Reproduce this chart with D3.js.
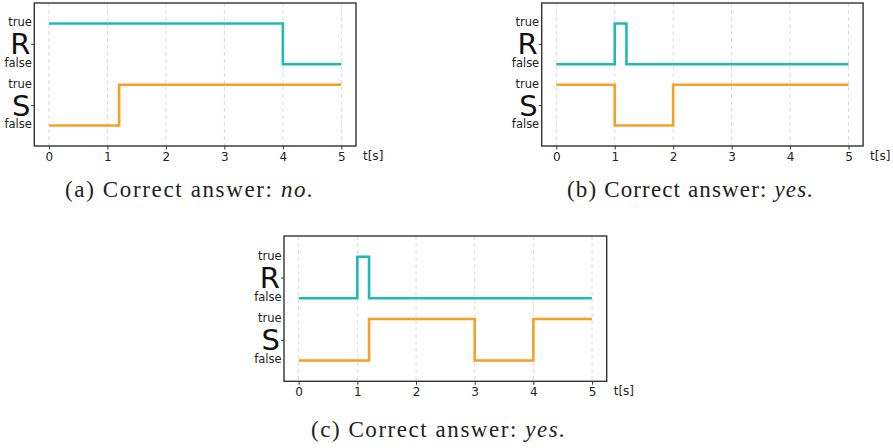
<!DOCTYPE html>
<html><head><meta charset="utf-8">
<script src="https://cdn.jsdelivr.net/npm/d3@7"></script>
<style>body{margin:0;background:#fff;} svg{display:block;}</style>
</head><body>
<svg id="chart" width="893" height="448"></svg>
<script>
// Data: step change times and boolean values (value holds from that time until the next)
const xTicks = [0, 1, 2, 3, 4, 5];
const yLabels = ["true", "false"];
const signalNames = ["R", "S"];

const timesA_R = [0, 4, 5];      const valsA_R = [true, false, false];
const timesA_S = [0, 1.2, 5];    const valsA_S = [false, true, true];

const timesB_R = [0, 1, 1.2, 5]; const valsB_R = [false, true, false, false];
const timesB_S = [0, 1, 2, 5];   const valsB_S = [true, false, true, true];

const timesC_R = [0, 1, 1.2, 5];       const valsC_R = [false, true, false, false];
const timesC_S = [0, 1.2, 3, 4, 5];    const valsC_S = [false, true, false, true, true];

const captions = [
  {label: "(a) Correct answer: ", ans: "no."},
  {label: "(b) Correct answer: ", ans: "yes."},
  {label: "(c) Correct answer: ", ans: "yes."}
];

const colR = "#1fbab3", colS = "#f6a024";
const svg = d3.select("#chart");

function drawPanel(left, top, w, h, tR, vR, tS, vS, cap, capX, capY, capW) {
  const g = svg.append("g").attr("transform", `translate(${left},${top})`);
  const x = d3.scaleLinear().domain([-0.25, 5.25]).range([0, w]);
  const y = d3.scaleLinear().domain([-0.5, 3.0]).range([h, 0]);
  // level mapping: R true=2.5, R false=1.5, S true=1, S false=0
  const lvl = (sig, v) => sig === "R" ? (v ? 2.5 : 1.5) : (v ? 1 : 0);

  // grid
  g.selectAll(".grid").data(xTicks).join("line")
    .attr("x1", d => x(d)).attr("x2", d => x(d))
    .attr("y1", 0).attr("y2", h)
    .attr("stroke", "#dcdcdc").attr("stroke-width", 1).attr("stroke-dasharray", "4,3");

  // lines
  const line = d3.line().curve(d3.curveStepAfter).x(d => x(d.t)).y(d => y(d.v));
  const rData = tR.map((t, i) => ({t, v: lvl("R", vR[i])}));
  const sData = tS.map((t, i) => ({t, v: lvl("S", vS[i])}));
  g.append("path").attr("d", line(rData)).attr("fill", "none").attr("stroke", colR).attr("stroke-width", 2.6);
  g.append("path").attr("d", line(sData)).attr("fill", "none").attr("stroke", colS).attr("stroke-width", 2.6);

  // frame
  g.append("rect").attr("x", 0).attr("y", 0).attr("width", w).attr("height", h)
    .attr("fill", "none").attr("stroke", "#333").attr("stroke-width", 1.4);

  // x axis
  const xAxis = d3.axisBottom(x).tickValues(xTicks).tickSize(3.5).tickPadding(3).tickFormat(d3.format("d"));
  const xa = g.append("g").attr("transform", `translate(0,${h})`).call(xAxis);
  xa.select(".domain").remove();
  xa.selectAll("line").attr("stroke", "#333");
  xa.selectAll("text").attr("font-family", "DejaVu Sans").attr("font-size", 12).attr("fill", "#222");

  // y axis: ticks at signal centres
  const yAxis = d3.axisLeft(y).tickValues([2, 0.5]).tickSize(3).tickFormat("");
  const ya = g.append("g").call(yAxis);
  ya.select(".domain").remove();
  ya.selectAll("line").attr("stroke", "#333");

  // y labels
  const lab = [
    {t: yLabels[0], v: 2.5}, {t: yLabels[1], v: 1.5},
    {t: yLabels[0], v: 1}, {t: yLabels[1], v: 0}
  ];
  g.selectAll(".yl").data(lab).join("text")
    .attr("x", -2.5).attr("y", d => y(d.v)).attr("dy", "0.25em")
    .attr("text-anchor", "end").attr("font-family", "DejaVu Sans").attr("font-size", 11.5)
    .attr("fill", "#222").text(d => d.t);
  g.selectAll(".sn").data([{t: signalNames[0], v: 2}, {t: signalNames[1], v: 0.5}]).join("text")
    .attr("x", -4).attr("y", d => y(d.v)).attr("dy", "0.36em")
    .attr("text-anchor", "end").attr("font-family", "DejaVu Sans").attr("font-size", 29)
    .attr("fill", "#111").text(d => d.t);

  g.append("text").attr("x", w + 7).attr("y", h + 13.5)
    .attr("font-family", "DejaVu Sans").attr("font-size", 12).attr("fill", "#222").text("t[s]");

  const ct = svg.append("text").attr("x", capX - capW / 2).attr("y", capY)
    .attr("textLength", capW).attr("lengthAdjust", "spacing")
    .attr("font-family", "Liberation Serif").attr("font-size", 23).attr("fill", "#222");
  ct.append("tspan").text(cap.label);
  ct.append("tspan").attr("font-style", "italic").text(cap.ans);
}

drawPanel(34.3, 3, 321.7, 143, timesA_R, valsA_R, timesA_S, valsA_S, captions[0], 189, 197, 248);
drawPanel(541.7, 3, 321.4, 143, timesB_R, valsB_R, timesB_S, valsB_S, captions[1], 690, 197, 246);
drawPanel(284, 236, 322.7, 145.3, timesC_R, valsC_R, timesC_S, valsC_S, captions[2], 438, 437, 254);
</script>
</body></html>
